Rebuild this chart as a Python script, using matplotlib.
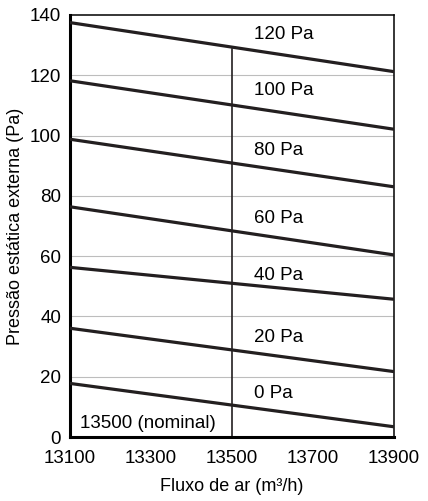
import matplotlib
matplotlib.use('Agg')
import matplotlib.pyplot as plt

plt.rcParams['font.family'] = ['Liberation Sans', 'DejaVu Sans']

# caudal (m3/h) nos extremos
flow = [13100, 13900]
nominal = 13500

# pressão estática externa (Pa) para cada curva
labels = ['120 Pa', '100 Pa', '80 Pa', '60 Pa', '40 Pa', '20 Pa', '0 Pa']
p_start = [137.5, 118.2, 98.8, 76.4, 56.3, 36.1, 17.8]
p_end = [121.2, 102.1, 83.0, 60.4, 45.7, 21.7, 3.4]
label_y = [133.4, 115.1, 95.0, 72.6, 53.7, 33.1, 14.3]

ink = '#231f20'

fig = plt.figure(figsize=(4.28, 5.01), dpi=100)
ax = fig.add_axes([0.1624, 0.1277, 0.7582, 0.8424])

for y in range(20, 140, 20):
    ax.axhline(y, color='#bdbdbd', lw=0.8, zorder=1)

for lab, a, b, ly in zip(labels, p_start, p_end, label_y):
    ax.plot(flow, [a, b], color=ink, lw=2.3, zorder=3, solid_capstyle='butt')
    ax.text(13555, ly, lab, fontsize=13.5, va='center', ha='left', color='black')

# linha do caudal nominal
ax.plot([nominal, nominal], [0, 128.8], color=ink, lw=1.2, zorder=2)
ax.text(13126, 4.6, '13500 (nominal)', fontsize=13.5, va='center', ha='left')

ax.set_xlim(13100, 13900)
ax.set_ylim(0, 140)
ax.set_xticks([13100, 13300, 13500, 13700, 13900])
ax.set_yticks(range(0, 141, 20))
ax.tick_params(length=0, labelsize=13.5)
ax.tick_params(axis='x', pad=9)
ax.tick_params(axis='y', pad=6)
ax.set_xlabel('Fluxo de ar (m³/h)', fontsize=13, labelpad=8)
ax.set_ylabel('Pressão estática externa (Pa)', fontsize=13, labelpad=4)

ax.spines['left'].set_linewidth(2.2)
ax.spines['bottom'].set_linewidth(2.2)
ax.spines['top'].set_linewidth(1.1)
ax.spines['right'].set_linewidth(1.1)
for s in ax.spines.values():
    s.set_color('black')

fig.savefig('out.png', dpi=100)
